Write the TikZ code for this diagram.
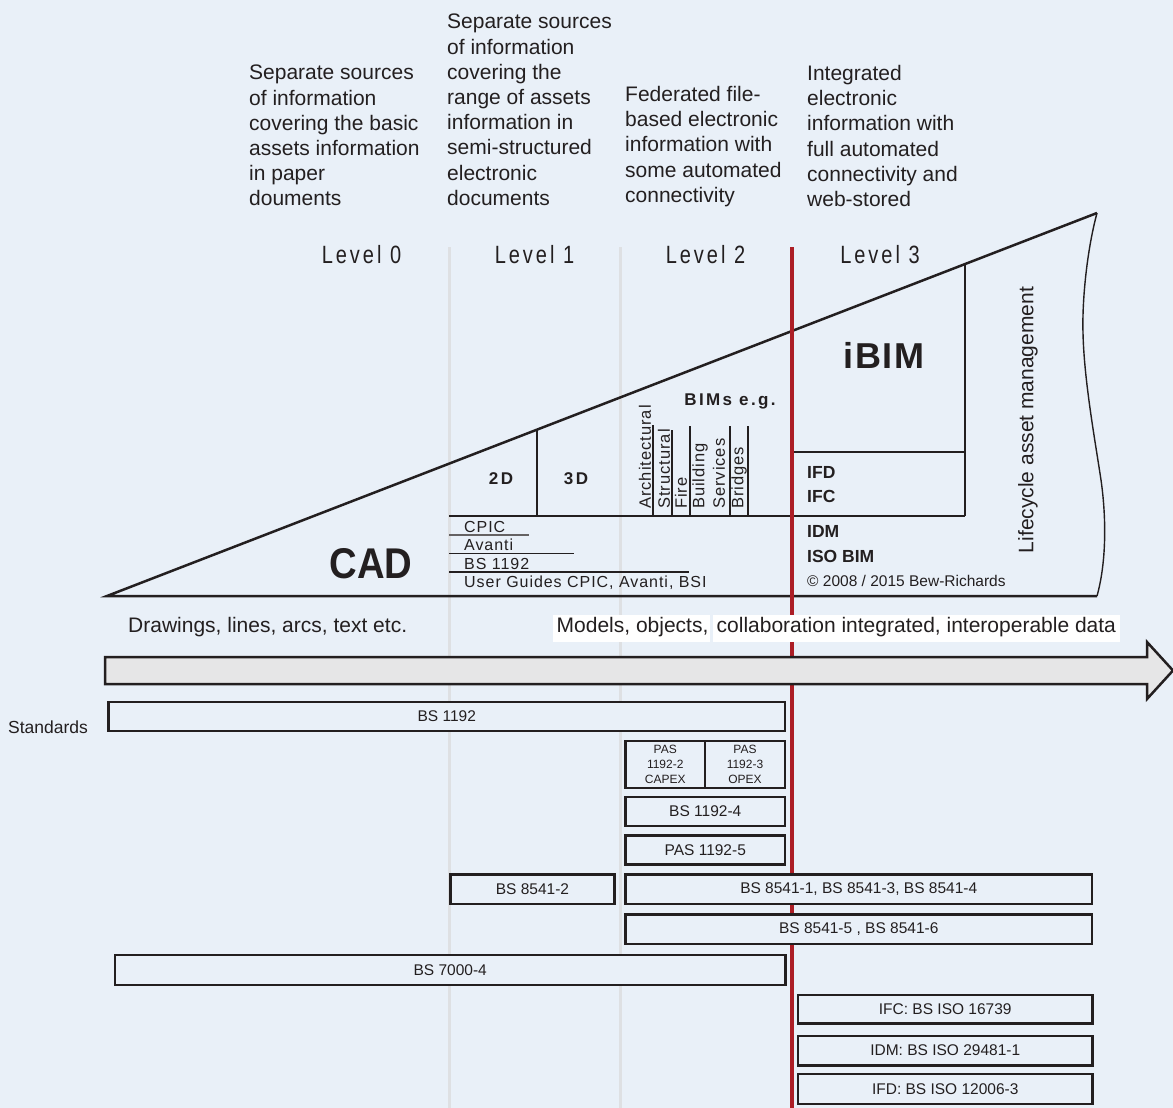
\documentclass[tikz,border=0pt]{standalone}
\usepackage{fontspec}
\setmainfont{Liberation Sans}
\newfontfamily\lvlfont[FakeStretch=0.8,LetterSpace=12]{Liberation Sans}
\newfontfamily\spfont[LetterSpace=6]{Liberation Sans}
\newfontfamily\spwfont[LetterSpace=14]{Liberation Sans}
\newfontfamily\ibimfont[LetterSpace=5]{Liberation Sans}
\newfontfamily\cadfont[FakeStretch=0.89]{Liberation Sans}
\definecolor{bg}{RGB}{233,240,248}
\definecolor{redl}{RGB}{172,30,38}
\definecolor{greyl}{RGB}{222,224,227}
\definecolor{arrowfill}{RGB}{230,230,231}
\definecolor{txt}{RGB}{35,31,32}
\tikzset{
  toptext/.style={font=\fontsize{21}{25.2}\selectfont, align=left, inner sep=0pt, text=txt},
  lvl/.style={font=\lvlfont\fontsize{25}{25}\selectfont, inner sep=0pt, text=txt},
  thick line/.style={line width=2.5pt, draw=txt},
  thin line/.style={line width=1.4pt, draw=txt},
  rot/.style={rotate=90, anchor=west, inner sep=0pt, font=\spfont\fontsize{16.5}{16.5}\selectfont, text=txt},
  lst/.style={anchor=base west, inner sep=0pt, font=\spfont\fontsize{16}{16}\selectfont, text=txt},
  bld/.style={anchor=base west, inner sep=0pt, font=\bfseries\fontsize{17.5}{17.5}\selectfont, text=txt},
  stdbox/.style={draw=txt, line width=2.5pt, fill=bg, inner sep=0pt, text=txt, font=\fontsize{15.5}{15.5}\selectfont},
  whitebox/.style={fill=white, inner sep=0pt}
}
\begin{document}
\begin{tikzpicture}[x=1pt,y=-1pt]
\fill[bg] (0,0) rectangle (1173,1108);
\useasboundingbox (0,0) rectangle (1173,1108);

% top descriptions
\node[toptext, anchor=north west] (t0) at (249,65) {Separate sources\\of information\\covering the basic\\assets information\\in paper\\douments};
\node[toptext, anchor=north west] (t1) at (447,14) {Separate sources\\of information\\covering the\\range of assets\\information in\\semi-structured\\electronic\\documents};
\node[toptext, anchor=north west] (t2) at (625,86) {Federated file-\\based electronic\\information with\\some automated\\connectivity};
\node[toptext, anchor=north west] (t3) at (807,65) {Integrated\\electronic\\information with\\full automated\\connectivity and\\web-stored};

% level labels
\node[lvl, anchor=base] (l0) at (361.5,263) {Level 0};
\node[lvl, anchor=base] (l1) at (534.5,263) {Level 1};
\node[lvl, anchor=base] (l2) at (705.5,263) {Level 2};
\node[lvl, anchor=base] (l3) at (880,263) {Level 3};

% column separators
\draw[greyl, line width=3pt] (449,247) -- (449,1108);
\draw[greyl, line width=3pt] (620,247) -- (620,1108);

% triangle
\draw[thick line, line join=miter] (1097,213) -- (107,596) -- (1097,596);
\draw[line width=1.4pt, draw=txt] (1097,213) .. controls (1087,250) and (1082,300) .. (1083,333)
  .. controls (1084,380) and (1095,440) .. (1101,480)
  .. controls (1106,515) and (1107,560) .. (1097,596);

% iBIM box and rows
\draw[thick line] (965,264) -- (965,516);
\draw[thick line] (792,452) -- (965,452);
\draw[thick line] (449,516) -- (965,516);
\draw[thick line] (537,429.6) -- (537,516);

% BIM discipline columns
\draw[thin line] (653,425) -- (653,516);
\draw[thin line] (672,430) -- (672,516);
\draw[thin line] (690,426) -- (690,516);
\draw[thin line] (730,426) -- (730,516);
\draw[thin line] (748,426) -- (748,516);
\node[rot] (arch) at (645,509) {Architectural};
\node[rot] (stru) at (664,509) {Structural};
\node[rot] (fire) at (681,509) {Fire};
\node[rot] (buil) at (700,509) {Building};
\node[rot] (serv) at (719,509) {Services};
\node[rot] (brid) at (739,509) {Bridges};
\node[inner sep=0pt, anchor=base, font=\spwfont\bfseries\fontsize{17}{17}\selectfont, text=txt] (bims) at (730,405) {BIMs e.g.};

\node[inner sep=0pt, anchor=base, font=\spwfont\bfseries\fontsize{17}{17}\selectfont, text=txt] (d2) at (501,484) {2D};
\node[inner sep=0pt, anchor=base, font=\spwfont\bfseries\fontsize{17}{17}\selectfont, text=txt] (d3) at (576,484) {3D};
\node[inner sep=0pt, anchor=base, font=\cadfont\bfseries\fontsize{43}{43}\selectfont, text=txt] (cad) at (371,578) {CAD};

% CPIC list
\draw[line width=1.2pt, draw=txt!70] (449,535) -- (529,535);
\draw[line width=1.2pt, draw=txt] (449,553.5) -- (574,553.5);
\draw[line width=1.2pt, draw=txt] (449,572) -- (689,572);
\node[lst] (cpic) at (464,532) {CPIC};
\node[lst] (avan) at (464,550) {Avanti};
\node[lst] (bs) at (464,569) {BS 1192};
\node[lst] (ug) at (464,587.5) {User Guides CPIC, Avanti, BSI};

% iBIM texts
\node[inner sep=0pt, anchor=base, font=\ibimfont\bfseries\fontsize{36}{36}\selectfont, text=txt] (ibim) at (884,368) {iBIM};
\node[bld] (ifd) at (807,478) {IFD};
\node[bld] (ifc) at (807,502.5) {IFC};
\node[bld] (idm) at (807,537.5) {IDM};
\node[bld] (isob) at (807,562.3) {ISO BIM};
\node[anchor=base west, inner sep=0pt, font=\fontsize{15.5}{15.5}\selectfont, text=txt] (copy) at (807,586.7) {\textcopyright{} 2008 / 2015 Bew-Richards};
\node[rotate=90, inner sep=0pt, font=\fontsize{21}{21}\selectfont, text=txt] (lam) at (1028,420) {Lifecycle asset management};

% red level-3 line
\draw[redl, line width=4pt] (792,247) -- (792,1108);

% captions above arrow
\node[anchor=west, inner sep=0pt, font=\fontsize{21}{21}\selectfont, text=txt] (draw) at (128,627) {Drawings, lines, arcs, text etc.};
\fill[white] (553,615) rectangle (709.5,641.5);
\fill[white] (713,615) rectangle (1120,641.5);
\node[anchor=west, inner sep=0pt, font=\fontsize{21}{21}\selectfont, text=txt] (mod) at (556.5,627) {Models, objects,};
\node[anchor=west, inner sep=0pt, font=\fontsize{21}{21}\selectfont, text=txt] (coll) at (716.5,627) {collaboration integrated, interoperable data};

% big arrow
\draw[thick line, fill=arrowfill, line join=miter] (105,657) -- (1147,657) -- (1147,642) -- (1173,670.5) -- (1147,699) -- (1147,684) -- (105,684) -- cycle;

% standards
\node[anchor=west, inner sep=0pt, font=\fontsize{17.5}{17.5}\selectfont, text=txt] (stds) at (8,727) {Standards};
\node[stdbox, minimum width=676.5pt, minimum height=29pt] (b1192) at (446.75,716.5) {BS 1192};
\node[stdbox, minimum width=79.5pt, minimum height=47pt, align=center, font=\fontsize{12}{15}\selectfont] (pas2) at (665.25,764.5) {PAS\\1192-2\\CAPEX};
\node[stdbox, minimum width=80pt, minimum height=47pt, align=center, font=\fontsize{12}{15}\selectfont] (pas3) at (745,764.5) {PAS\\1192-3\\OPEX};
\node[stdbox, minimum width=159.5pt, minimum height=29pt] (b11924) at (705.25,811.3) {BS 1192-4};
\node[stdbox, minimum width=159.5pt, minimum height=29pt] (pas5) at (705.25,849.8) {PAS 1192-5};
\node[stdbox, minimum width=164pt, minimum height=29.5pt] (b85412) at (532.5,889) {BS 8541-2};
\node[stdbox, minimum width=466.5pt, minimum height=29.5pt] (b8541a) at (858.75,889) {BS 8541-1, BS 8541-3, BS 8541-4};
\node[stdbox, minimum width=466.5pt, minimum height=29.5pt] (b8541b) at (858.75,929) {BS 8541-5 , BS 8541-6};
\node[stdbox, minimum width=670.5pt, minimum height=30pt] (b7000) at (450.25,970) {BS 7000-4};
\node[stdbox, minimum width=294.5pt, minimum height=28.5pt] (ifcb) at (945.25,1009) {IFC: BS ISO 16739};
\node[stdbox, minimum width=294.5pt, minimum height=29.5pt] (idmb) at (945.25,1050.5) {IDM: BS ISO 29481-1};
\node[stdbox, minimum width=294.5pt, minimum height=30pt] (ifdb) at (945.25,1089) {IFD: BS ISO 12006-3};
\end{tikzpicture}
\end{document}
